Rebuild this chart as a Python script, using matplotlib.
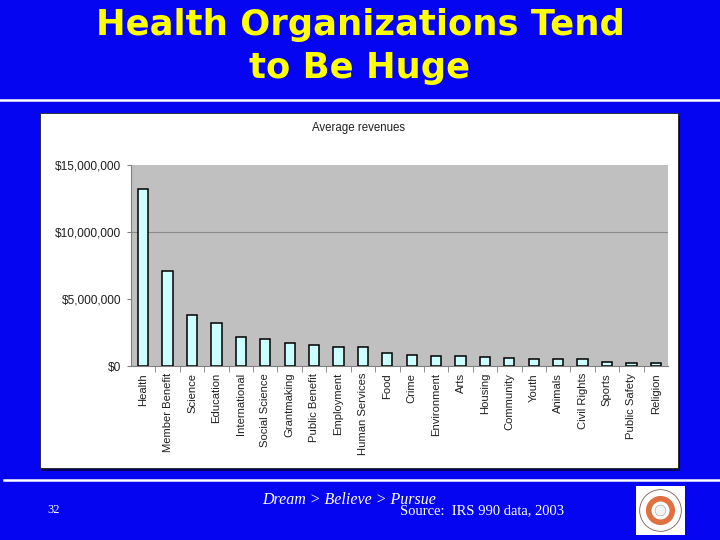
import matplotlib
matplotlib.use("Agg")
import matplotlib.pyplot as plt
from matplotlib.patches import Rectangle, Circle
from matplotlib.lines import Line2D

categories = ["Health", "Member Benefit", "Science", "Education", "International",
              "Social Science", "Grantmaking", "Public Benefit", "Employment",
              "Human Services", "Food", "Crime", "Environment", "Arts", "Housing",
              "Community", "Youth", "Animals", "Civil Rights", "Sports",
              "Public Safety", "Religion"]
revenues = [13.2e6, 7.1e6, 3.8e6, 3.2e6, 2.14e6, 1.99e6, 1.69e6, 1.54e6, 1.42e6,
            1.42e6, 0.95e6, 0.80e6, 0.72e6, 0.72e6, 0.65e6, 0.57e6, 0.50e6, 0.50e6,
            0.50e6, 0.27e6, 0.20e6, 0.20e6]
yticks = [0, 5e6, 10e6, 15e6]
ytick_labels = ["$0", "$5,000,000", "$10,000,000", "$15,000,000"]

BLUE = "#0505F2"
fig = plt.figure(figsize=(7.2, 5.4), dpi=100)
fig.patch.set_facecolor(BLUE)

# Title
fig.text(0.5, 1 - 25/540, "Health Organizations Tend", ha="center", va="center",
         color="#FFFF00", fontsize=25.5, fontweight="bold", family="DejaVu Sans")
fig.text(0.5, 1 - 68/540, "to Be Huge", ha="center", va="center",
         color="#FFFF00", fontsize=25.5, fontweight="bold", family="DejaVu Sans")

# separator lines
fig.add_artist(Line2D([0, 1], [1 - 100/540]*2, color="white", lw=1.8, transform=fig.transFigure))
fig.add_artist(Line2D([0.005, 1], [1 - 480/540]*2, color="white", lw=1.8, transform=fig.transFigure))

# white chart panel with shadow (drawn below the axes)
fig.add_artist(Rectangle((42/720, 1 - 471/540), 638/720, 355/540, transform=fig.transFigure,
                         facecolor="#000060", edgecolor="none", zorder=-2))
fig.add_artist(Rectangle((40/720, 1 - 468/540), 638/720, 355/540, transform=fig.transFigure,
                         facecolor="white", edgecolor="#202020", lw=0.6, zorder=-1))

fig.text(358/720, 1 - 128/540, "Average revenues", ha="center", va="center",
         fontsize=8.3, family="Liberation Sans", color="#202020")

ax = fig.add_axes([131/720, 1 - 366/540, 537/720, 201/540])
ax.set_facecolor("#C0C0C0")
x = list(range(len(categories)))
ax.bar(x, revenues, width=0.42, color="#CCFFFF", edgecolor="black", linewidth=1.1, zorder=3)
ax.set_xlim(-0.5, len(categories) - 0.5)
ax.set_ylim(0, 15e6)
ax.set_yticks(yticks)
ax.set_yticklabels(ytick_labels, fontsize=8.6, family="Liberation Sans", color="#202020")
ax.axhline(yticks[2], color="#8A8A8A", lw=0.8, zorder=1)
ax.set_xticks(x)
ax.set_xticklabels(categories, rotation=90, fontsize=8.1, family="Liberation Sans", color="#202020")
ax.tick_params(axis="x", length=0, pad=5)
ax.tick_params(axis="y", length=3, color="#808080", pad=4)
ax.set_xticks([i + 0.5 for i in x[:-1]], minor=True)
ax.tick_params(axis="x", which="minor", length=4, color="#808080", direction="out")
for s in ["top", "right"]:
    ax.spines[s].set_visible(False)
ax.spines["left"].set_color("#808080")
ax.spines["bottom"].set_color("#808080")

# Footer
fig.text(47/720, 1 - 510/540, "32", ha="left", va="center", color="white",
         fontsize=9, family="Liberation Serif")
fig.text(262/720, 1 - 500/540, "Dream > Believe > Pursue", ha="left", va="center",
         color="white", fontsize=11.5, style="italic", family="Liberation Serif")
fig.text(400/720, 1 - 511/540, "Source:  IRS 990 data, 2003", ha="left", va="center",
         color="white", fontsize=10.5, family="Liberation Serif")

# logo approximation
lax = fig.add_axes([636/720, 1 - 535/540, 49/720, 49/540])
lax.set_xlim(-1, 1); lax.set_ylim(-1, 1)
lax.set_xticks([]); lax.set_yticks([])
lax.set_facecolor("white")
for s in lax.spines.values():
    s.set_visible(False)
lax.add_patch(Circle((0, 0), 0.85, facecolor="none", edgecolor="#7a5a5a", lw=0.6))
lax.add_patch(Circle((0, 0), 0.48, facecolor="none", edgecolor="#E07040", lw=4))
lax.add_patch(Circle((0, 0), 0.22, facecolor="#f4f4f4", edgecolor="#999999", lw=0.4))

fig.savefig("out.png", dpi=100, facecolor=fig.get_facecolor())
